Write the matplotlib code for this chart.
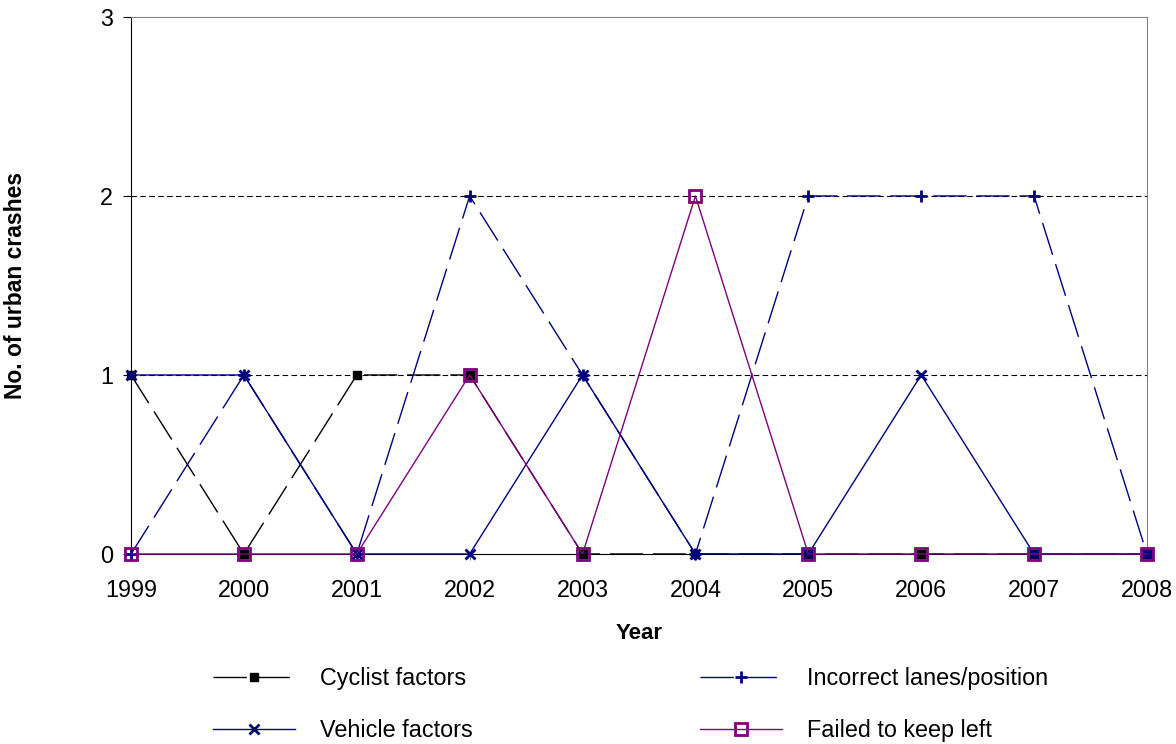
import matplotlib
matplotlib.use('Agg')
import matplotlib.pyplot as plt

plt.rcParams['font.family'] = ['Liberation Sans', 'DejaVu Sans']

# data
years = [1999, 2000, 2001, 2002, 2003, 2004, 2005, 2006, 2007, 2008]
cyclist = [1, 0, 1, 1, 0, 0, 0, 0, 0, 0]
vehicle = [1, 1, 0, 0, 1, 0, 0, 1, 0, 0]
incorrect = [0, 1, 0, 2, 1, 0, 2, 2, 2, 0]
failed_left = [0, 0, 0, 1, 0, 2, 0, 0, 0, 0]

fig = plt.figure(figsize=(11.76, 7.44), dpi=100)
ax = fig.add_axes([0.1114, 0.2554, 0.8639, 0.7218])

dash = (0, (24, 7))
ax.plot(years, cyclist, color='black', lw=1, linestyle=dash, marker='s', ms=6,
        mfc='black', mec='black', label='Cyclist factors', zorder=3, clip_on=False)
ax.plot(years, vehicle, color='#000080', lw=1, marker='x', ms=7, mew=2,
        label='Vehicle factors', zorder=3, clip_on=False)
ax.plot(years, incorrect, color='#000080', lw=1, linestyle=dash, marker='+', ms=9, mew=2,
        label='Incorrect lanes/position', zorder=3, clip_on=False)
ax.plot(years, failed_left, color='#800080', lw=1, marker='s', ms=9, mew=2,
        mfc='none', mec='#800080', label='Failed to keep left', zorder=4, clip_on=False)

ax.set_xlim(1999, 2008)
ax.set_ylim(0, 3)
ax.set_xticks(years)
ax.set_yticks([0, 1, 2, 3])
ax.tick_params(axis='both', labelsize=16.8, direction='out')
ax.tick_params(axis='y', length=6, pad=7)
ax.tick_params(axis='x', length=4, color='gray', pad=14)
for y in [1, 2]:
    ax.axhline(y, color='black', lw=0.8, linestyle=(0, (5, 3)), zorder=1)

ax.spines['left'].set_color('black')
ax.spines['bottom'].set_color('black')
ax.spines['top'].set_color('gray')
ax.spines['right'].set_color('gray')

ax.set_xlabel('Year', fontsize=16, fontweight='bold')
ax.xaxis.set_label_coords(0.5, -0.128)
ax.set_ylabel('No. of urban crashes', fontsize=16.5, fontweight='bold')
ax.yaxis.set_label_coords(-0.102, 0.5)

fig.legend(loc='upper left', bbox_to_anchor=(0.1633, 0.1315), ncol=2, frameon=False,
           fontsize=16.8, handlelength=3.5, handletextpad=1.07, columnspacing=9.77,
           labelspacing=1.25)

fig.savefig('out.png', dpi=100)
